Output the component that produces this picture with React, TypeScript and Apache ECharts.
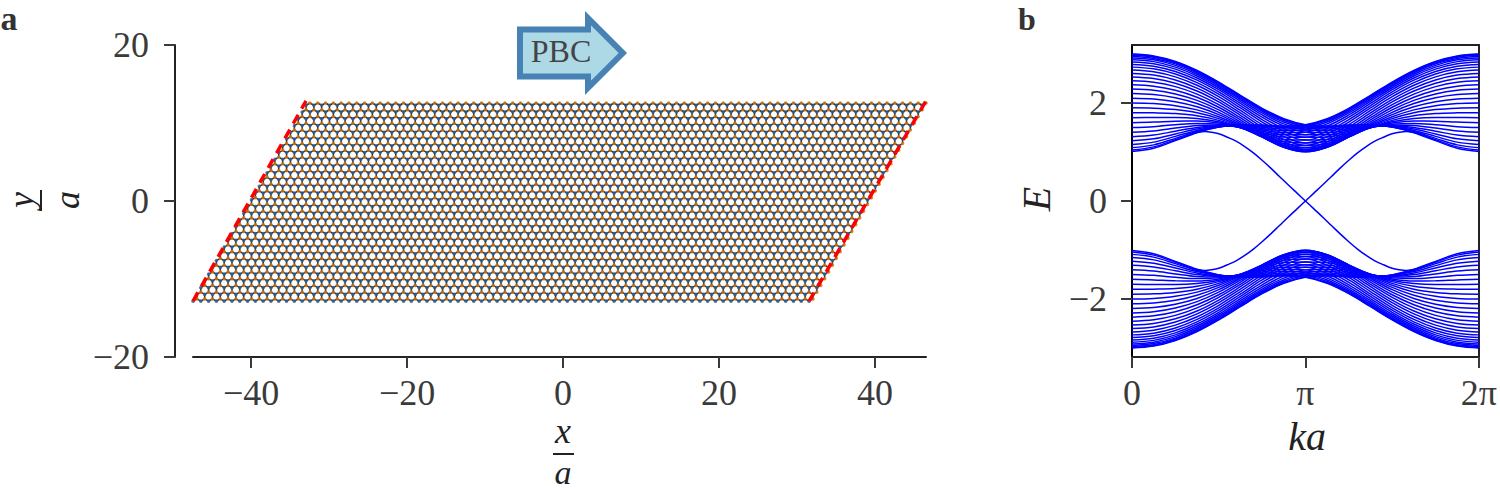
import React, { useEffect, useRef } from "react";
import * as echarts from "echarts";

// ---------- Panel a: ribbon lattice description ----------
const CELLS_PER_ROW = 80;
const ROWS = 30;
const ORIGIN_X = -47.45;
const ORIGIN_Y = -12.84;
const BOND = 0.5774;
const ROW_STEP = 0.866;
const X_TICKS = [-40, -20, 0, 20, 40];
const LEFT_EDGE = [[-47.45, -12.84], [-32.95, 12.84]];
const RIGHT_EDGE = [[31.55, -12.84], [46.55, 12.84]];

// ---------- Panel b: levels read per k (k / pi), positive branch, 30 lines ----------
const K_LEFT = [0, 0.125, 0.25, 0.375, 0.5, 0.625, 0.75, 0.875, 1];
const levelsK0 = [2.997,2.986,2.969,2.946,2.915,2.878,2.835,2.785,2.729,2.668,2.600,2.528,2.450,2.368,2.281,2.190,2.096,1.999,1.900,1.800,1.698,1.597,1.498,1.402,1.310,1.226,1.151,1.088,1.040,1.010];
const levelsK1 = [2.958,2.948,2.931,2.907,2.877,2.841,2.798,2.749,2.694,2.633,2.567,2.496,2.421,2.341,2.257,2.170,2.079,1.987,1.893,1.797,1.702,1.608,1.516,1.427,1.344,1.267,1.200,1.144,1.103,1.076];
const levelsK2 = [2.845,2.835,2.818,2.795,2.765,2.729,2.688,2.640,2.588,2.530,2.468,2.402,2.332,2.258,2.182,2.104,2.024,1.944,1.863,1.783,1.704,1.628,1.555,1.486,1.422,1.366,1.317,1.277,1.248,1.230];
const levelsK3 = [2.662,2.652,2.635,2.613,2.583,2.549,2.508,2.463,2.413,2.359,2.302,2.242,2.179,2.115,2.051,1.986,1.921,1.858,1.797,1.738,1.682,1.630,1.582,1.538,1.500,1.467,1.439,1.417,1.402,1.393];
const levelsK4 = [2.424,2.413,2.396,2.373,2.344,2.309,2.269,2.225,2.177,2.126,2.073,2.019,1.964,1.911,1.858,1.808,1.761,1.718,1.679,1.644,1.614,1.588,1.567,1.550,1.536,1.526,1.518,1.513,1.509,1.507];
const levelsK5 = [2.154,2.142,2.124,2.100,2.069,2.032,1.990,1.945,1.897,1.847,1.796,1.746,1.698,1.653,1.613,1.577,1.548,1.525,1.508,1.498,1.493,1.494,1.499,1.506,1.515,1.525,1.535,1.544,1.550,1.555];
const levelsK6 = [1.889,1.877,1.857,1.829,1.795,1.754,1.709,1.660,1.609,1.556,1.505,1.456,1.411,1.372,1.341,1.319,1.306,1.302,1.307,1.321,1.341,1.366,1.394,1.423,1.452,1.480,1.504,1.524,1.539,1.548];
const levelsK7 = [1.678,1.664,1.642,1.611,1.573,1.528,1.478,1.424,1.368,1.311,1.257,1.206,1.163,1.128,1.105,1.094,1.096,1.110,1.135,1.170,1.211,1.256,1.303,1.349,1.393,1.433,1.468,1.496,1.516,1.529];
const levelsK8 = [1.557,1.543,1.520,1.489,1.449,1.404,1.352,1.297,1.241,1.184,1.131,1.083,1.044,1.016,1.002,1.002,1.016,1.044,1.083,1.131,1.184,1.241,1.297,1.352,1.404,1.449,1.489,1.520,1.543,1.557];
const LEVEL_COLUMNS = [levelsK0, levelsK1, levelsK2, levelsK3, levelsK4, levelsK5, levelsK6, levelsK7, levelsK8];

// Edge state
const EDGE_K = [0.38, 0.42, 0.46, 0.5, 0.55, 0.6, 0.65, 0.7, 0.75, 0.8, 0.85, 0.9, 0.95, 1];
const EDGE_E = [1.40, 1.415, 1.40, 1.37, 1.30, 1.22, 1.11, 0.98, 0.83, 0.67, 0.50, 0.33, 0.165, 0];
const E_TICKS = [-2, 0, 2];

const INK = "#3a3a3a";
const SERIF = '"Liberation Serif", serif';
const BLUE = "#0000ff";

function latticeParts() {
  const blue: number[][] = [];
  const orange: number[][] = [];
  const bonds: number[][] = [];
  const siteX = (i: number, j: number) => ORIGIN_X + i + j * 0.5;
  const lowY = (j: number) => ORIGIN_Y + j * ROW_STEP;
  const highY = (j: number) => lowY(j) + BOND / 2;
  for (let j = 0; j < ROWS; j++) {
    for (let i = 0; i < CELLS_PER_ROW; i++) {
      const bx = siteX(i, j);
      const ox = bx + 0.5;
      blue.push([bx, lowY(j)]);
      orange.push([ox, highY(j)]);
      bonds.push([bx, lowY(j)], [ox, highY(j)]);
      if (i < CELLS_PER_ROW - 1) bonds.push([ox + 0.5, lowY(j)]);
      bonds.push([NaN, NaN]);
      if (j < ROWS - 1) {
        bonds.push([ox, highY(j)], [ox, lowY(j + 1)], [NaN, NaN]);
      }
    }
  }
  return { blue, orange, bonds };
}

function bandSeries() {
  const out: any[] = [];
  const nLines = levelsK0.length;
  const line = (data: number[][], width = 1.5) => ({
    type: "line", xAxisIndex: 1, yAxisIndex: 1, data, showSymbol: false, smooth: 0.35, silent: true,
    lineStyle: { color: BLUE, width }, itemStyle: { color: BLUE },
  });
  for (const sign of [1, -1]) {
    for (let n = 0; n < nLines; n++) {
      const pts: number[][] = [];
      K_LEFT.forEach((k, c) => pts.push([k * Math.PI, sign * LEVEL_COLUMNS[c][n]]));
      for (let c = K_LEFT.length - 2; c >= 0; c--) {
        pts.push([(2 - K_LEFT[c]) * Math.PI, sign * LEVEL_COLUMNS[c][nLines - 1 - n]]);
      }
      out.push(line(pts));
    }
    const edge: number[][] = [];
    EDGE_K.forEach((k, i) => edge.push([k * Math.PI, sign * EDGE_E[i]]));
    for (let i = EDGE_K.length - 2; i >= 0; i--) edge.push([(2 - EDGE_K[i]) * Math.PI, -sign * EDGE_E[i]]);
    out.push(line(edge, 1.5));
  }
  return out;
}

const mathText = (text: string, x: number, y: number, opts: any = {}) => ({
  type: "text", x, y, rotation: opts.rotation || 0, z: 50,
  style: {
    text, fill: opts.fill || "#222", fontFamily: SERIF, fontStyle: opts.italic === false ? "normal" : "italic",
    fontWeight: opts.weight || "normal", fontSize: opts.size || 36, align: "center", verticalAlign: "middle",
  },
});

export default function App() {
  const ref = useRef<HTMLDivElement>(null);
  useEffect(() => {
    const chart = echarts.init(ref.current!, null, { renderer: "svg" });
    const { blue, orange, bonds } = latticeParts();
    const axisLine = { show: true, onZero: false, lineStyle: { color: "#222", width: 2 } };
    const tick = { show: true, length: 11, lineStyle: { color: INK, width: 2 } };
    const labelA = { color: INK, fontFamily: SERIF, fontSize: 36, margin: 17 };
    chart.setOption({
      animation: false,
      grid: [
        { left: 193, top: 45, width: 733, height: 312 },
        { left: 1132, top: 45, width: 349, height: 312 },
      ],
      xAxis: [
        {
          type: "value", gridIndex: 0, min: ORIGIN_X, max: 46.55, splitLine: { show: false }, axisLine,
          axisTick: { ...tick, customValues: X_TICKS },
          axisLabel: { ...labelA, customValues: X_TICKS, margin: 18, formatter: (v: number) => (v < 0 ? "\u2212" + -v : String(v)) },
        },
        {
          type: "value", gridIndex: 1, min: 0, max: 2 * Math.PI, splitLine: { show: false }, axisLine,
          axisTick: { ...tick, customValues: [0, Math.PI, 2 * Math.PI] },
          axisLabel: {
            ...labelA, margin: 18, customValues: [0, Math.PI, 2 * Math.PI],
            formatter: (v: number) => (v === 0 ? "0" : v < 4 ? "\u03c0" : "2\u03c0"),
          },
        },
        {
          type: "value", gridIndex: 1, position: "top", min: 0, max: 2 * Math.PI, splitLine: { show: false },
          axisLine, axisTick: { show: false }, axisLabel: { show: false },
        },
      ],
      yAxis: [
        {
          type: "value", gridIndex: 0, min: -20, max: 20, interval: 20, offset: 18, splitLine: { show: false }, axisLine,
          axisTick: tick,
          axisLabel: { ...labelA, margin: 26, formatter: (v: number) => (v < 0 ? "\u2212" + -v : String(v)) },
        },
        {
          type: "value", gridIndex: 1, min: -3.18, max: 3.18, splitLine: { show: false }, axisLine: { ...axisLine, lineStyle: { color: "#000", width: 2 } },
          axisTick: { ...tick, customValues: E_TICKS },
          axisLabel: { ...labelA, margin: 25, customValues: E_TICKS, formatter: (v: number) => (v < 0 ? "\u2212" + -v : String(v)) },
        },
        {
          type: "value", gridIndex: 1, position: "right", min: -3.18, max: 3.18, splitLine: { show: false },
          axisLine, axisTick: { show: false }, axisLabel: { show: false },
        },
      ],
      series: [
        {
          type: "line", xAxisIndex: 0, yAxisIndex: 0, data: bonds, showSymbol: false, connectNulls: false, silent: true,
          lineStyle: { color: "#27303c", width: 1.5 }, z: 2,
        },
        {
          type: "scatter", xAxisIndex: 0, yAxisIndex: 0, data: blue, symbolSize: 3.6, silent: true, progressive: 0,
          itemStyle: { color: "#2a5f96" }, z: 3,
        },
        {
          type: "scatter", xAxisIndex: 0, yAxisIndex: 0, data: orange, symbolSize: 3.6, silent: true, progressive: 0,
          itemStyle: { color: "#d97400" }, z: 3,
        },
        ...[LEFT_EDGE, RIGHT_EDGE].map((d) => ({
          type: "line", xAxisIndex: 0, yAxisIndex: 0, data: d, showSymbol: false, silent: true, z: 4,
          lineStyle: { color: "#ff0000", width: 3.5, type: [10, 7] },
        })),
        ...bandSeries(),
      ],
      graphic: [
        mathText("a", 9, 18, { italic: false, weight: "bold", size: 34, fill: "#333" }),
        mathText("b", 1027, 19, { italic: false, weight: "bold", size: 32, fill: "#333" }),
        {
          type: "polygon", z: 40,
          shape: { points: [[520, 29.5], [588, 29.5], [588, 18.2], [622.8, 53], [588, 87.8], [588, 76.5], [520, 76.5]] },
          style: { fill: "#add8e6", stroke: "#4682b4", lineWidth: 6, lineJoin: "miter", miterLimit: 10 },
        },
        mathText("PBC", 561, 51, { italic: false, size: 32, fill: "#444" }),
        // x / a fraction
        mathText("x", 563, 431, { size: 36 }),
        { type: "rect", z: 50, shape: { x: 553, y: 453, width: 21, height: 2 }, style: { fill: "#222" } },
        mathText("a", 563, 472, { size: 34 }),
        // y / a fraction
        mathText("y", 21, 200, { rotation: Math.PI / 2, size: 36 }),
        { type: "rect", z: 50, shape: { x: 40, y: 190, width: 2, height: 21 }, style: { fill: "#222" } },
        mathText("a", 67, 200, { rotation: Math.PI / 2, size: 36 }),
        // panel b labels
        mathText("E", 1036, 199, { rotation: Math.PI / 2, size: 40 }),
        mathText("ka", 1307, 436, { size: 40 }),
      ],
    });
    return () => chart.dispose();
  }, []);
  return <div ref={ref} style={{ position: "absolute", left: 0, top: 0, width: 1500, height: 490 }} />;
}
